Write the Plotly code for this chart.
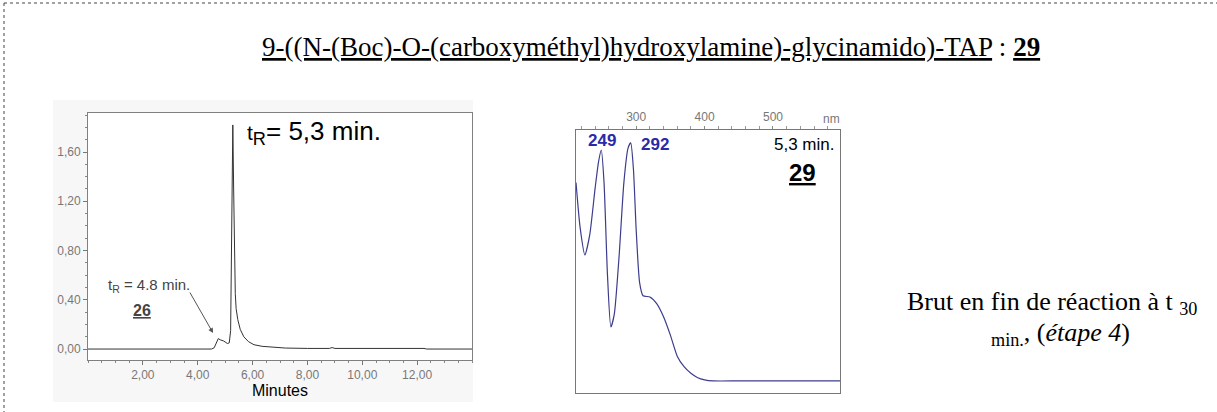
import plotly.graph_objects as go

# =========================
# Données
# =========================
# chromatogramme (temps en min, absorbance)
temps = [0.0, 4.50, 4.60, 4.68, 4.75, 4.82, 4.95, 5.08, 5.15, 5.20, 5.23, 5.26, 5.28,
         5.31, 5.34, 5.37, 5.40, 5.46, 5.55, 5.68, 5.85, 6.05, 6.35, 6.70, 7.20, 8.00,
         8.80, 8.90, 9.00, 12.25, 12.35, 14.0]
absorb = [0.0, 0.0, 0.01, 0.05, 0.085, 0.075, 0.065, 0.045, 0.05, 0.15, 0.90, 1.78, 1.82,
          1.30, 0.75, 0.45, 0.33, 0.24, 0.16, 0.10, 0.06, 0.035, 0.022, 0.014, 0.008, 0.005,
          0.005, 0.012, 0.005, 0.005, 0.0, 0.0]
ticks_min = [2, 4, 6, 8, 10, 12]
labels_min = ["2,00", "4,00", "6,00", "8,00", "10,00", "12,00"]
ticks_abs = [0.0, 0.4, 0.8, 1.2, 1.6]
labels_abs = ["0,00", "0,40", "0,80", "1,20", "1,60"]

# spectre UV (nm, unités arbitraires)
nm = [212, 218, 225, 232, 240, 245, 249, 253, 258, 263, 268, 275, 282, 288, 292,
      296, 300, 305, 310, 320, 330, 340, 350, 360, 370, 380, 390, 400, 412, 450,
      500, 550, 598]
uv = [0.80, 0.63, 0.525, 0.60, 0.78, 0.88, 0.924, 0.80, 0.45, 0.251, 0.30, 0.52,
      0.80, 0.93, 0.951, 0.85, 0.62, 0.42, 0.37, 0.365, 0.34, 0.29, 0.22, 0.14,
      0.10, 0.075, 0.058, 0.050, 0.046, 0.046, 0.046, 0.046, 0.046]
ticks_nm = [300, 400, 500]

W, H = 1217, 412
px = lambda x: x / W
py = lambda y: 1 - y / H

fig = go.Figure()

fig.add_trace(go.Scatter(x=temps, y=absorb, mode="lines",
                         line=dict(color="#333333", width=1),
                         xaxis="x", yaxis="y", showlegend=False))
fig.add_trace(go.Scatter(x=nm, y=uv, mode="lines",
                         line=dict(color="#3c3c8c", width=1.2, shape="spline", smoothing=0.6),
                         xaxis="x2", yaxis="y2", showlegend=False))

tick_font = dict(family="Liberation Sans", size=12, color="#777777")

fig.update_layout(
    width=W, height=H,
    margin=dict(l=0, r=0, t=0, b=0),
    paper_bgcolor="white", plot_bgcolor="white",
    font=dict(family="Liberation Sans"),
    xaxis=dict(domain=[px(88), px(472)], anchor="y", range=[0, 14],
               tickvals=ticks_min, ticktext=labels_min, tickfont=tick_font,
               ticks="outside", ticklen=4, tickcolor="#777",
               minor=dict(dtick=0.5, ticks="outside", ticklen=2, tickcolor="#888"),
               showline=True, linecolor="#808080", mirror=True,
               showgrid=False, zeroline=False,
               title=dict(text="Minutes", font=dict(size=16, color="black"), standoff=0)),
    yaxis=dict(domain=[py(360), py(113)], anchor="x", range=[-0.089, 1.917],
               tickvals=ticks_abs, ticktext=labels_abs, tickfont=tick_font,
               ticks="outside", ticklen=4, tickcolor="#777",
               minor=dict(dtick=0.1, ticks="outside", ticklen=2, tickcolor="#888"),
               showline=True, linecolor="#808080", mirror=True,
               showgrid=False, zeroline=False),
    xaxis2=dict(domain=[px(576), px(840)], anchor="y2", side="top", range=[212, 598],
                tickvals=ticks_nm, tickfont=tick_font,
                ticks="outside", ticklen=3, tickcolor="#888",
                minor=dict(dtick=20, ticks="outside", ticklen=3, tickcolor="#999"),
                showline=True, linecolor="#777777", mirror=True,
                showgrid=False, zeroline=False),
    yaxis2=dict(domain=[py(393), py(130)], anchor="x2", range=[0, 1],
                showticklabels=False, ticks="",
                showline=True, linecolor="#777777", mirror=True,
                showgrid=False, zeroline=False),
)

# cadre pointillé + fond gris très clair autour du chromatogramme
fig.add_shape(type="line", xref="paper", yref="paper", x0=px(4), x1=1.0, y0=py(3), y1=py(3),
              line=dict(color="#444", width=1, dash="dot"))
fig.add_shape(type="line", xref="paper", yref="paper", x0=px(4), x1=px(4), y0=py(3), y1=0,
              line=dict(color="#444", width=1, dash="dot"))
fig.add_shape(type="rect", xref="paper", yref="paper", x0=px(53), x1=px(473), y0=py(402), y1=py(100),
              fillcolor="#f7f7f7", line=dict(width=0), layer="below")
fig.add_shape(type="rect", xref="paper", yref="paper", x0=px(88), x1=px(472), y0=py(360), y1=py(113),
              fillcolor="white", line=dict(width=0), layer="below")


def texte(x, y, txt, font, xanchor="center"):
    fig.add_annotation(xref="paper", yref="paper", x=px(x), y=py(y), text=txt, font=font,
                       xanchor=xanchor, yanchor="middle", showarrow=False)


# titre
texte(651, 47, "<u>9-((N-(Boc)-O-(carboxyméthyl)hydroxylamine)-glycinamido)-TAP</u> : <u><b>29</b></u>",
      dict(family="Liberation Serif", size=27, color="black"))

# annotations chromatogramme
texte(245, 132, "<span style='font-size:21px'>t</span><sub>R</sub>= 5,3 min.",
      dict(size=26, color="black"), xanchor="left")
texte(106, 285, "t<sub>R</sub> = 4.8 min.", dict(size=15, color="#444"), xanchor="left")
texte(142, 310, "<u><b>26</b></u>", dict(size=16, color="#444"))
fig.add_annotation(x=4.56, y=0.13, xref="x", yref="y", ax=-24, ay=-42,
                   showarrow=True, arrowhead=2, arrowsize=1, arrowwidth=1, arrowcolor="#555", text="")

# annotations spectre
texte(602, 141, "<b>249</b>", dict(size=17, color="#2a2aa8"))
texte(655, 144, "<b>292</b>", dict(size=17, color="#2a2aa8"))
texte(836, 145, "5,3 min.", dict(size=17, color="black"), xanchor="right")
texte(802, 173, "<u><b>29</b></u>", dict(size=24, color="black"))
texte(831, 119, "nm", tick_font)

# texte de droite
texte(1052, 303, "Brut en fin de réaction à t <sub>30</sub>",
      dict(family="Liberation Serif", size=26, color="black"))
texte(1060, 334, "<sub>min.</sub>, (<i>étape 4</i>)",
      dict(family="Liberation Serif", size=26, color="black"))

fig.write_html("out.html", config={"displayModeBar": False},
               post_script="document.body.style.margin='0';")
